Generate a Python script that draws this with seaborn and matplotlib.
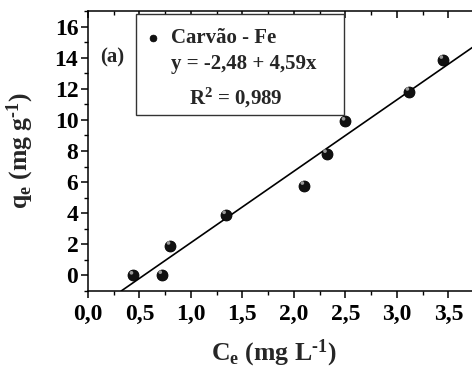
import numpy as np
import pandas as pd
import matplotlib
matplotlib.use("Agg")
import matplotlib.pyplot as plt
from matplotlib.patches import Rectangle
from matplotlib.ticker import MultipleLocator, FuncFormatter
import seaborn as sns

# Equilibrium data: Ce (mg/L) vs qe (mg/g)
ce = [0.44, 0.72, 0.80, 1.34, 2.10, 2.32, 2.50, 3.12, 3.45]
qe = [0.00, 0.04, 1.92, 3.89, 5.77, 7.82, 9.90, 11.82, 13.87]

# Linear fit parameters
intercept = -2.48
slope = 4.59
r2 = 0.989

series_label = "Carvão - Fe"
panel_label = "(a)"

sns.set_style("ticks")
plt.rcParams["font.family"] = ["Liberation Serif", "DejaVu Serif"]
plt.rcParams["font.weight"] = "bold"
plt.rcParams["axes.unicode_minus"] = False
plt.rcParams["mathtext.fontset"] = "custom"
plt.rcParams["mathtext.rm"] = "Liberation Serif:bold"
plt.rcParams["mathtext.it"] = "Liberation Serif:bold"
plt.rcParams["mathtext.bf"] = "Liberation Serif:bold"

W, H = 472, 374
fig = plt.figure(figsize=(W / 100, H / 100), dpi=100)
ax_l, ax_r, ax_t, ax_b = 88, 472, 11, 291
ax = fig.add_axes([ax_l / W, 1 - ax_b / H, (ax_r - ax_l) / W, (ax_b - ax_t) / H])

xmin, xmax = 0.0, 3.73
ymin, ymax = -1.0, 17.0

# fitted line across the visible range
x_fit = np.array([(ymin - intercept) / slope, xmax + 0.1])
fit_df = pd.DataFrame({"x": x_fit, "y": intercept + slope * x_fit})
sns.lineplot(data=fit_df, x="x", y="y", ax=ax, color="black", linewidth=1.2)

df = pd.DataFrame({"Ce": ce, "qe": qe})
sns.scatterplot(data=df, x="Ce", y="qe", ax=ax, s=62, color="#111111",
                edgecolor="black", linewidth=0.6, zorder=3)
# small highlight on each sphere
ax.scatter(np.array(ce) - 0.018, np.array(qe) + 0.17, s=7, color="#9a9a9a",
           edgecolor="none", zorder=4)

ax.set_xlim(xmin, xmax)
ax.set_ylim(ymin, ymax)

ax.xaxis.set_major_locator(MultipleLocator(0.5))
ax.xaxis.set_minor_locator(MultipleLocator(0.25))
ax.yaxis.set_major_locator(MultipleLocator(2))
ax.yaxis.set_minor_locator(MultipleLocator(1))
ax.xaxis.set_major_formatter(FuncFormatter(lambda v, p: f"{v:.1f}".replace(".", ",")))
ax.yaxis.set_major_formatter(FuncFormatter(lambda v, p: f"{v:.0f}"))

for s in ["left", "bottom", "top"]:
    ax.spines[s].set_linewidth(1.1)
    ax.spines[s].set_color("black")
ax.spines["right"].set_visible(False)

ax.tick_params(axis="both", which="major", length=5, width=1.1, labelsize=17,
               color="black", labelcolor="black")
ax.tick_params(axis="both", which="minor", length=3, width=1.0, color="black")
ax.tick_params(axis="x", which="both", top=True, pad=4)
ax.tick_params(axis="x", which="both", direction="out", bottom=True)
ax.tick_params(axis="y", which="both", direction="out", right=False, pad=2)

# top ticks point inward
for t in ax.xaxis.get_major_ticks() + ax.xaxis.get_minor_ticks():
    t.tick2line.set_marker(matplotlib.markers.TICKDOWN)

for lab in ax.get_xticklabels() + ax.get_yticklabels():
    lab.set_fontweight("bold")

ax.set_xlabel(r"C$_\mathregular{e}$ (mg L$^{\text{-1}}$)", fontsize=18.5,
              fontweight="bold")
ax.set_ylabel(r"q$_\mathregular{e}$ (mg g$^{\text{-1}}$)", fontsize=18.5,
              fontweight="bold")
ax.xaxis.set_label_coords(0.484, -0.165)
ax.yaxis.set_label_coords(-0.135, 0.50)


def to_ax(px, py):
    return (px - ax_l) / (ax_r - ax_l), (ax_b - py) / (ax_b - ax_t)


# legend box
bx0, by0 = to_ax(136, 115)
bx1, by1 = to_ax(344, 14)
ax.add_patch(Rectangle((bx0, by0), bx1 - bx0, by1 - by0, transform=ax.transAxes,
                       facecolor="white", edgecolor="#333333", linewidth=1.0,
                       zorder=5))
mx, my = to_ax(153, 38)
ax.scatter([mx], [my], s=24, color="#111111", edgecolor="black", linewidth=0.5,
           transform=ax.transAxes, zorder=6)
tx, ty = to_ax(171, 38)
ax.text(tx, ty, series_label, transform=ax.transAxes, fontsize=15,
        fontweight="bold", va="center", ha="left", zorder=6)
tx, ty = to_ax(171, 64)
ax.text(tx, ty, f"y = {intercept:.2f} + {slope:.2f}x".replace(".", ","),
        transform=ax.transAxes, fontsize=15, fontweight="bold", va="center",
        ha="left", zorder=6)
tx, ty = to_ax(189, 98)
ax.text(tx, ty, r"R$^\mathregular{2}$" + f" = {r2:.3f}".replace(".", ","),
        transform=ax.transAxes, fontsize=15, fontweight="bold", va="center",
        ha="left", zorder=6)

tx, ty = to_ax(100, 57)
ax.text(tx, ty, panel_label, transform=ax.transAxes, fontsize=15,
        fontweight="bold", va="center", ha="left")

fig.savefig("out.png", dpi=100)
